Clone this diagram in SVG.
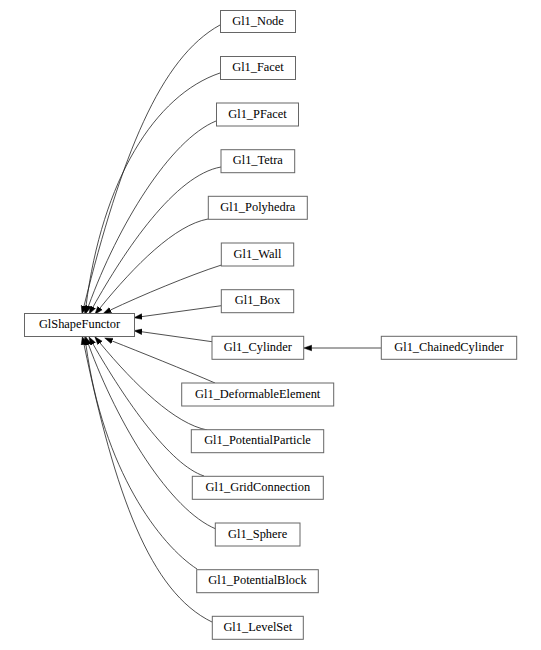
<svg xmlns="http://www.w3.org/2000/svg" width="541" height="650" viewBox="0 0 541 650">
<style>
.n rect{fill:#fff;stroke:#666;stroke-width:1}
.n text{font-size:12.4px;fill:#000;text-anchor:middle}
.e path{fill:none;stroke:#222;stroke-width:0.8}
</style>
<defs>
<marker id="ah" markerUnits="userSpaceOnUse" markerWidth="10" markerHeight="8" refX="0" refY="3" orient="auto" viewBox="0 0 10 6">
<path d="M0,0.2 L8,3 L0,5.8 z" fill="#000" stroke="#000" stroke-width="0.5"/>
</marker>
</defs>
<rect width="541" height="650" fill="#fff"/>
<g class="e">
<path marker-end="url(#ah)" d="M220,25 C160,58 121.5,156 84,306"/>
<path marker-end="url(#ah)" d="M220,73 C155,95 102,180 86,306"/>
<path marker-end="url(#ah)" d="M216,121 C170,140 118,225 88.5,306"/>
<path marker-end="url(#ah)" d="M221,167 C175,175 125,250 93,307"/>
<path marker-end="url(#ah)" d="M208,219 C175,225 135,265 100,308"/>
<path marker-end="url(#ah)" d="M221.5,265 C190,275 140,296 110.5,310"/>
<path marker-end="url(#ah)" d="M221.3,305.7 L142,316.6"/>
<path marker-end="url(#ah)" d="M212,341.7 L142,331.8"/>
<path marker-end="url(#ah)" d="M215,383 C185,370 140,352 112.2,341"/>
<path marker-end="url(#ah)" d="M207.3,430 C175,424 135,385 100,343"/>
<path marker-end="url(#ah)" d="M204,476 C170,465 125,400 93,344"/>
<path marker-end="url(#ah)" d="M216,529 C170,510 118,425 88.5,344.5"/>
<path marker-end="url(#ah)" d="M197,569 C160,545 103,470 86,345"/>
<path marker-end="url(#ah)" d="M212,622 C150,592 115,494 84,344.4"/>
<path marker-end="url(#ah)" d="M381,348 L311.7,348"/>
</g>
<g font-family="'Liberation Serif', 'Times New Roman', 'DejaVu Serif', serif">
<g id="GlShapeFunctor" class="n"><rect x="24.5" y="313.5" width="110" height="23"/><text x="79.5" y="328.2">GlShapeFunctor</text></g>
<g id="Gl1_Node" class="n"><rect x="220.5" y="10.5" width="75" height="22"/><text x="258" y="24.7">Gl1_Node</text></g>
<g id="Gl1_Facet" class="n"><rect x="220.5" y="56.5" width="75" height="23"/><text x="258" y="71.2">Gl1_Facet</text></g>
<g id="Gl1_PFacet" class="n"><rect x="216.5" y="103" width="82" height="23"/><text x="257.5" y="117.6">Gl1_PFacet</text></g>
<g id="Gl1_Tetra" class="n"><rect x="221" y="149.7" width="73.7" height="23"/><text x="257.8" y="164.3">Gl1_Tetra</text></g>
<g id="Gl1_Polyhedra" class="n"><rect x="208.3" y="196.3" width="99" height="23"/><text x="257.8" y="210.9">Gl1_Polyhedra</text></g>
<g id="Gl1_Wall" class="n"><rect x="221.3" y="243" width="72.4" height="23"/><text x="257.5" y="257.6">Gl1_Wall</text></g>
<g id="Gl1_Box" class="n"><rect x="221.3" y="289.7" width="72.4" height="23"/><text x="257.5" y="304.3">Gl1_Box</text></g>
<g id="Gl1_Cylinder" class="n"><rect x="212" y="336.3" width="91.7" height="23"/><text x="257.8" y="350.9">Gl1_Cylinder</text></g>
<g id="Gl1_ChainedCylinder" class="n"><rect x="381.3" y="336.3" width="135.4" height="23"/><text x="449" y="350.9">Gl1_ChainedCylinder</text></g>
<g id="Gl1_DeformableElement" class="n"><rect x="181.7" y="383" width="152" height="23"/><text x="257.7" y="397.6">Gl1_DeformableElement</text></g>
<g id="Gl1_PotentialParticle" class="n"><rect x="191.3" y="429.7" width="132.4" height="23"/><text x="257.5" y="444.3">Gl1_PotentialParticle</text></g>
<g id="Gl1_GridConnection" class="n"><rect x="192.3" y="476.3" width="131" height="23"/><text x="257.8" y="490.9">Gl1_GridConnection</text></g>
<g id="Gl1_Sphere" class="n"><rect x="215.3" y="523" width="84.7" height="23"/><text x="257.6" y="537.6">Gl1_Sphere</text></g>
<g id="Gl1_PotentialBlock" class="n"><rect x="196.7" y="569.7" width="121.6" height="23"/><text x="257.5" y="584.3">Gl1_PotentialBlock</text></g>
<g id="Gl1_LevelSet" class="n"><rect x="212.3" y="616.3" width="91" height="23"/><text x="257.8" y="630.9">Gl1_LevelSet</text></g>
</g>
</svg>
